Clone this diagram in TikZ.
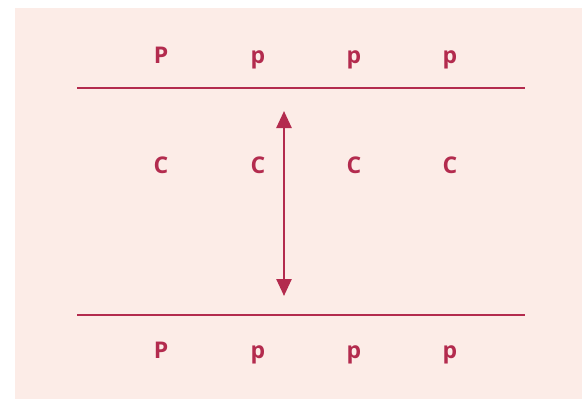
\documentclass[tikz,border=0pt]{standalone}
\usepackage{fontspec}
\setmainfont{Open Sans}
\usetikzlibrary{arrows.meta}
\definecolor{crimson}{HTML}{B32B4E}
\definecolor{blush}{HTML}{FCECE7}
\begin{document}
\begin{tikzpicture}
          [x=1pt,y=-1pt,
           lbl/.style={text=crimson, font=\bfseries\fontsize{23}{26}\selectfont, anchor=base, inner sep=0pt},
           rule/.style={draw=crimson, line width=2pt}]
        \useasboundingbox (0,0) rectangle (582,399);
        \fill[blush] (15,8) rectangle (582,399);

        \coordinate (t1) at (77,88);
        \coordinate (t2) at (525,88);
        \coordinate (b1) at (77,315);
        \coordinate (b2) at (525,315);
        \coordinate (a1) at (284,111);
        \coordinate (a2) at (284,296);

        \node[lbl] (top1) at (161,63) {P};
        \node[lbl] (top2) at (258,63) {p};
        \node[lbl] (top3) at (354,63) {p};
        \node[lbl] (top4) at (450,63) {p};

        \foreach \i/\x in {1/161, 2/258, 3/354, 4/450}
          \node[lbl] (mid\i) at (\x,173) {C};

        \node[lbl] (bot1) at (161,358) {P};
        \node[lbl] (bot2) at (258,358) {p};
        \node[lbl] (bot3) at (354,358) {p};
        \node[lbl] (bot4) at (450,358) {p};

        \foreach \from/\to in {t1/t2, b1/b2}
          \draw[rule] (\from) -- (\to);
        \draw[rule, line width=2.5pt, {Triangle[length=17pt,width=15pt]}-{Triangle[length=17pt,width=15pt]}] (a1) -- (a2);
      \end{tikzpicture}
\end{document}
